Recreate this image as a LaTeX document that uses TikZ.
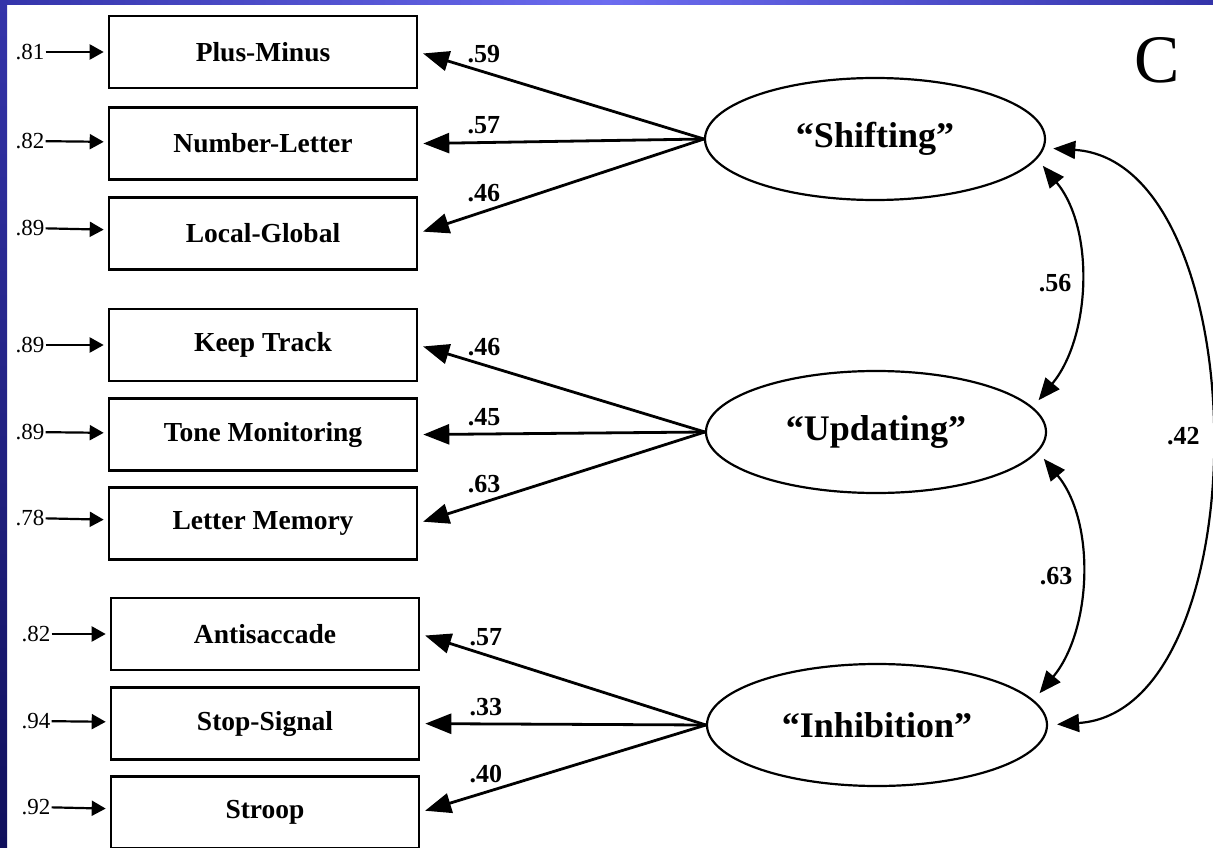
\documentclass[tikz,border=0pt]{standalone}
\usepackage{fontspec}
\setmainfont{Liberation Serif}
\usetikzlibrary{positioning, arrows.meta, shapes.geometric}
\definecolor{slidedark}{RGB}{16,16,92}
\definecolor{slidemid}{RGB}{52,52,170}
\definecolor{slidelight}{RGB}{108,108,240}

\begin{document}
\begin{tikzpicture}[x=1pt, y=-1pt, node distance=15pt,
  box/.style={draw, line width=2.6pt, minimum width=308pt, minimum height=72pt, inner sep=0pt, font=\fontsize{27.5}{27.5}\selectfont\bfseries},
  factor/.style={ellipse, draw, line width=2.2pt, minimum width=340pt, minimum height=122pt, inner sep=0pt, font=\fontsize{36}{36}\selectfont\bfseries},
  err/.style={font=\fontsize{23}{23}\selectfont, inner sep=1pt},
  coef/.style={font=\fontsize{26}{26}\selectfont\bfseries, inner sep=2pt},
  errarr/.style={line width=2.2pt, -{Triangle[length=14pt,width=15pt]}, shorten >=4pt},
  load/.style={line width=2.8pt, -{Triangle[length=26pt,width=20pt]}, shorten >=5pt},
  corr/.style={line width=2.2pt, {Triangle[length=22pt,width=18pt]}-{Triangle[length=22pt,width=18pt]}, shorten <=9pt, shorten >=9pt}]
  \useasboundingbox (0,0) rectangle (1213,848);
  \fill[white] (0,0) rectangle (1213,848);
  \shade[left color=slidemid, right color=slidemid, middle color=slidelight] (0,0) rectangle (1213,5);
  \shade[top color=slidemid, bottom color=slidedark] (0,0) rectangle (7,848);

  \node[box] (pm) at (263,52) {Plus-Minus};
  \node[box, below=17pt of pm] (nl) {Number-Letter};
  \node[box, below=of nl] (lg) {Local-Global};
  \node[box] (kt) at (263,345) {Keep Track};
  \node[box, below=of kt] (tm) {Tone Monitoring};
  \node[box, below=14pt of tm] (lm) {Letter Memory};
  \node[box] (as) at (265,634) {Antisaccade};
  \node[box, below=of as] (ss) {Stop-Signal};
  \node[box, below=14pt of ss] (st) {Stroop};

  \node[err] (e1) at (30,52) {.81};
  \node[err] (e2) at (30,141) {.82};
  \node[err] (e3) at (30,228) {.89};
  \node[err] (e4) at (30,345) {.89};
  \node[err] (e5) at (30,432) {.89};
  \node[err] (e6) at (30,518) {.78};
  \node[err] (e7) at (36,634) {.82};
  \node[err] (e8) at (36,721) {.94};
  \node[err] (e9) at (36,807) {.92};
  \draw[errarr] (e1) -- (pm);
  \draw[errarr] (e2) -- (nl);
  \draw[errarr] (e3) -- (lg);
  \draw[errarr] (e4) -- (kt);
  \draw[errarr] (e5) -- (tm);
  \draw[errarr] (e6) -- (lm);
  \draw[errarr] (e7) -- (as);
  \draw[errarr] (e8) -- (ss);
  \draw[errarr] (e9) -- (st);

  \node[factor] (shift) at (875,139) {``Shifting''};
  \node[factor] (upd) at (876,432) {``Updating''};
  \node[factor] (inh) at (877,725) {``Inhibition''};
  \node[font=\fontsize{68}{68}\selectfont] (panel) at (1157,60) {C};

  \draw[load] (shift.west) -- node[coef, pos=0.77, above=6pt] (l1) {.59} (pm.east);
  \draw[load] (shift.west) -- node[coef, pos=0.77, above=5pt] (l2) {.57} (nl.east);
  \draw[load] (shift.west) -- node[coef, pos=0.77, above=6pt] (l3) {.46} (lg.east);
  \draw[load] (upd.west) -- node[coef, pos=0.77, above=6pt] (l4) {.46} (kt.east);
  \draw[load] (upd.west) -- node[coef, pos=0.77, above=5pt] (l5) {.45} (tm.east);
  \draw[load] (upd.west) -- node[coef, pos=0.77, above=6pt] (l6) {.63} (lm.east);
  \draw[load] (inh.west) -- node[coef, pos=0.77, above=6pt] (l7) {.57} (as.east);
  \draw[load] (inh.west) -- node[coef, pos=0.77, above=5pt] (l8) {.33} (ss.east);
  \draw[load] (inh.west) -- node[coef, pos=0.77, above=6pt] (l9) {.40} (st.east);

  \draw[corr] (shift.-7) .. controls +(58,70) and +(58,-70) .. node[coef, left=4pt] (c1) {.56} (upd.9);
  \draw[corr] (upd.-7) .. controls +(58,70) and +(58,-70) .. node[coef, left=4pt] (c2) {.63} (inh.9);
  \draw[corr] (shift.-3) .. controls +(214,14) and +(214,-14) .. node[coef, left=4pt] (c3) {.42} (inh.east);
\end{tikzpicture}
\end{document}
